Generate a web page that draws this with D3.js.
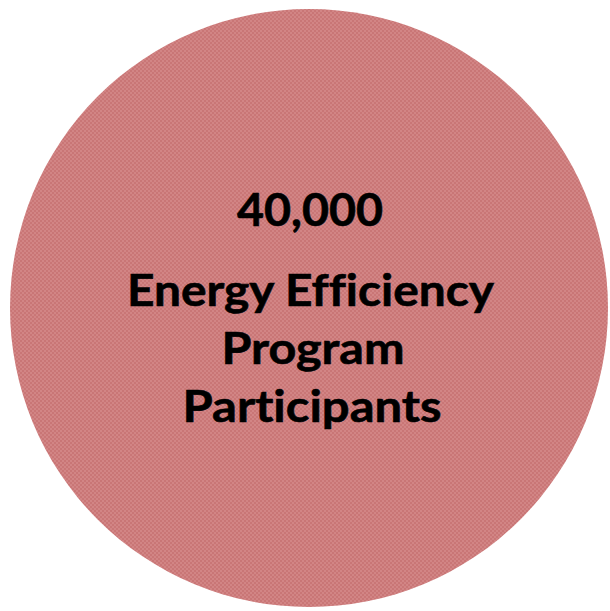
<!DOCTYPE html>
<html>
<head>
<meta charset="utf-8">
<script src="https://cdn.jsdelivr.net/npm/d3@7"></script>
<style>
  html, body { margin: 0; padding: 0; background: #fff; }
  svg { display: block; }
  text { font-variant-ligatures: none; font-feature-settings: "liga" 0, "dlig" 0; }
</style>
</head>
<body>
<div id="chart"></div>
<script>
// Data
const participants = [40000];
const labelLines = ["Energy Efficiency", "Program", "Participants"];
const maxValue = 40000;

const width = 610;
const height = 611;
const svg = d3.select('#chart').append('svg')
    .attr('width', width)
    .attr('height', height);

// checkered fill like the original's dithered pink
const defs = svg.append('defs');
const pat = defs.append('pattern')
    .attr('id', 'dither')
    .attr('patternUnits', 'userSpaceOnUse')
    .attr('width', 4)
    .attr('height', 4);
pat.append('rect').attr('width', 4).attr('height', 4).attr('fill', '#d28585');
pat.append('rect').attr('width', 2).attr('height', 2).attr('fill', '#c97676');
pat.append('rect').attr('x', 2).attr('y', 2).attr('width', 2).attr('height', 2).attr('fill', '#c97676');

const r = d3.scaleSqrt().domain([0, maxValue]).range([0, 299]);
const cx = 309, cy = 308;

svg.selectAll('circle.bubble')
    .data(participants)
    .enter()
    .append('circle')
    .attr('class', 'bubble')
    .attr('cx', cx)
    .attr('cy', cy)
    .attr('r', d => r(d))
    .attr('fill', 'url(#dither)');

const fmt = d3.format(',');
const font = "Lato, 'Open Sans', sans-serif";

// big number
svg.append('text')
    .attr('x', 310)
    .attr('y', 226)
    .attr('text-anchor', 'middle')
    .attr('font-family', font)
    .attr('font-weight', 'bold')
    .attr('font-size', 46)
    .attr('textLength', 146)
    .attr('lengthAdjust', 'spacingAndGlyphs')
    .attr('fill', '#000')
    .attr('stroke', '#000')
    .attr('stroke-width', 0.6)
    .text(fmt(participants[0]));

// label lines
const lineWidths = [367, 183, 259];
const lineX = [310.5, 313, 312];
const lineY = d3.scalePoint().domain(labelLines).range([306, 422]);

svg.selectAll('text.label')
    .data(labelLines)
    .enter()
    .append('text')
    .attr('class', 'label')
    .attr('x', (d, i) => lineX[i])
    .attr('y', d => lineY(d))
    .attr('text-anchor', 'middle')
    .attr('font-family', font)
    .attr('font-weight', 'bold')
    .attr('font-size', 44)
    .attr('textLength', (d, i) => lineWidths[i])
    .attr('lengthAdjust', 'spacingAndGlyphs')
    .attr('fill', '#000')
    .attr('stroke', '#000')
    .attr('stroke-width', 0.6)
    .text(d => d);
</script>
</body>
</html>
